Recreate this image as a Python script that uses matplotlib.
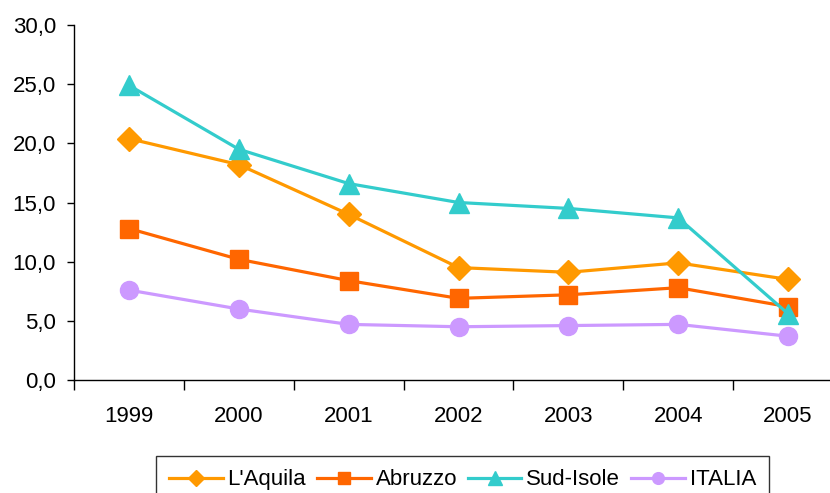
import matplotlib.pyplot as plt
from matplotlib.ticker import FuncFormatter

plt.rcParams['font.family'] = ['Liberation Sans', 'DejaVu Sans']

years = ["1999", "2000", "2001", "2002", "2003", "2004", "2005"]
aquila = [20.4, 18.2, 14.0, 9.5, 9.1, 9.9, 8.5]
abruzzo = [12.8, 10.2, 8.4, 6.9, 7.2, 7.8, 6.2]
sud_isole = [24.9, 19.5, 16.6, 15.0, 14.5, 13.7, 5.6]
italia = [7.6, 6.0, 4.7, 4.5, 4.6, 4.7, 3.7]

W, H = 830, 493
fig = plt.figure(figsize=(W / 100, H / 100), dpi=100)
# axes runs past the right edge, as in the original
ax = fig.add_axes([74 / W, 1 - 380 / H, (843 - 74) / W, (380 - 25) / H])

x = range(len(years))
lw = 2.3
ax.plot(x, aquila, color="#FF9900", lw=lw, marker="D", ms=12, label="L'Aquila")
ax.plot(x, abruzzo, color="#FF6600", lw=lw, marker="s", ms=13, label="Abruzzo")
ax.plot(x, sud_isole, color="#33CCCC", lw=lw, marker="^", ms=14.5, label="Sud-Isole")
ax.plot(x, italia, color="#CC99FF", lw=lw, marker="o", ms=13, label="ITALIA")

ax.set_xlim(-0.5, 6.5)
ax.set_ylim(0, 30)
ax.set_yticks(range(0, 31, 5))
ax.yaxis.set_major_formatter(FuncFormatter(lambda v, p: f"{v:.1f}".replace(".", ",")))
ax.set_xticks(list(x))
ax.set_xticklabels(years)
ax.set_xticks([i - 0.5 for i in range(8)], minor=True)
ax.tick_params(axis="x", which="major", length=0, pad=19, labelsize=16)
ax.tick_params(axis="x", which="minor", length=7, width=1, direction="out")
ax.tick_params(axis="y", length=5, width=1, direction="out", pad=8, labelsize=16)

for s in ["top", "right"]:
    ax.spines[s].set_visible(False)
for s in ["left", "bottom"]:
    ax.spines[s].set_linewidth(1)

leg = fig.legend(loc="upper left", bbox_to_anchor=(156 / W, 1 - 456 / H), ncol=4,
                 fontsize=16, frameon=True, fancybox=False, edgecolor="black",
                 handlelength=2.4, handletextpad=0.22, columnspacing=0.5,
                 borderaxespad=0, borderpad=0.6, markerscale=0.65)
leg.get_frame().set_linewidth(1)

fig.savefig("out.png", dpi=100)
